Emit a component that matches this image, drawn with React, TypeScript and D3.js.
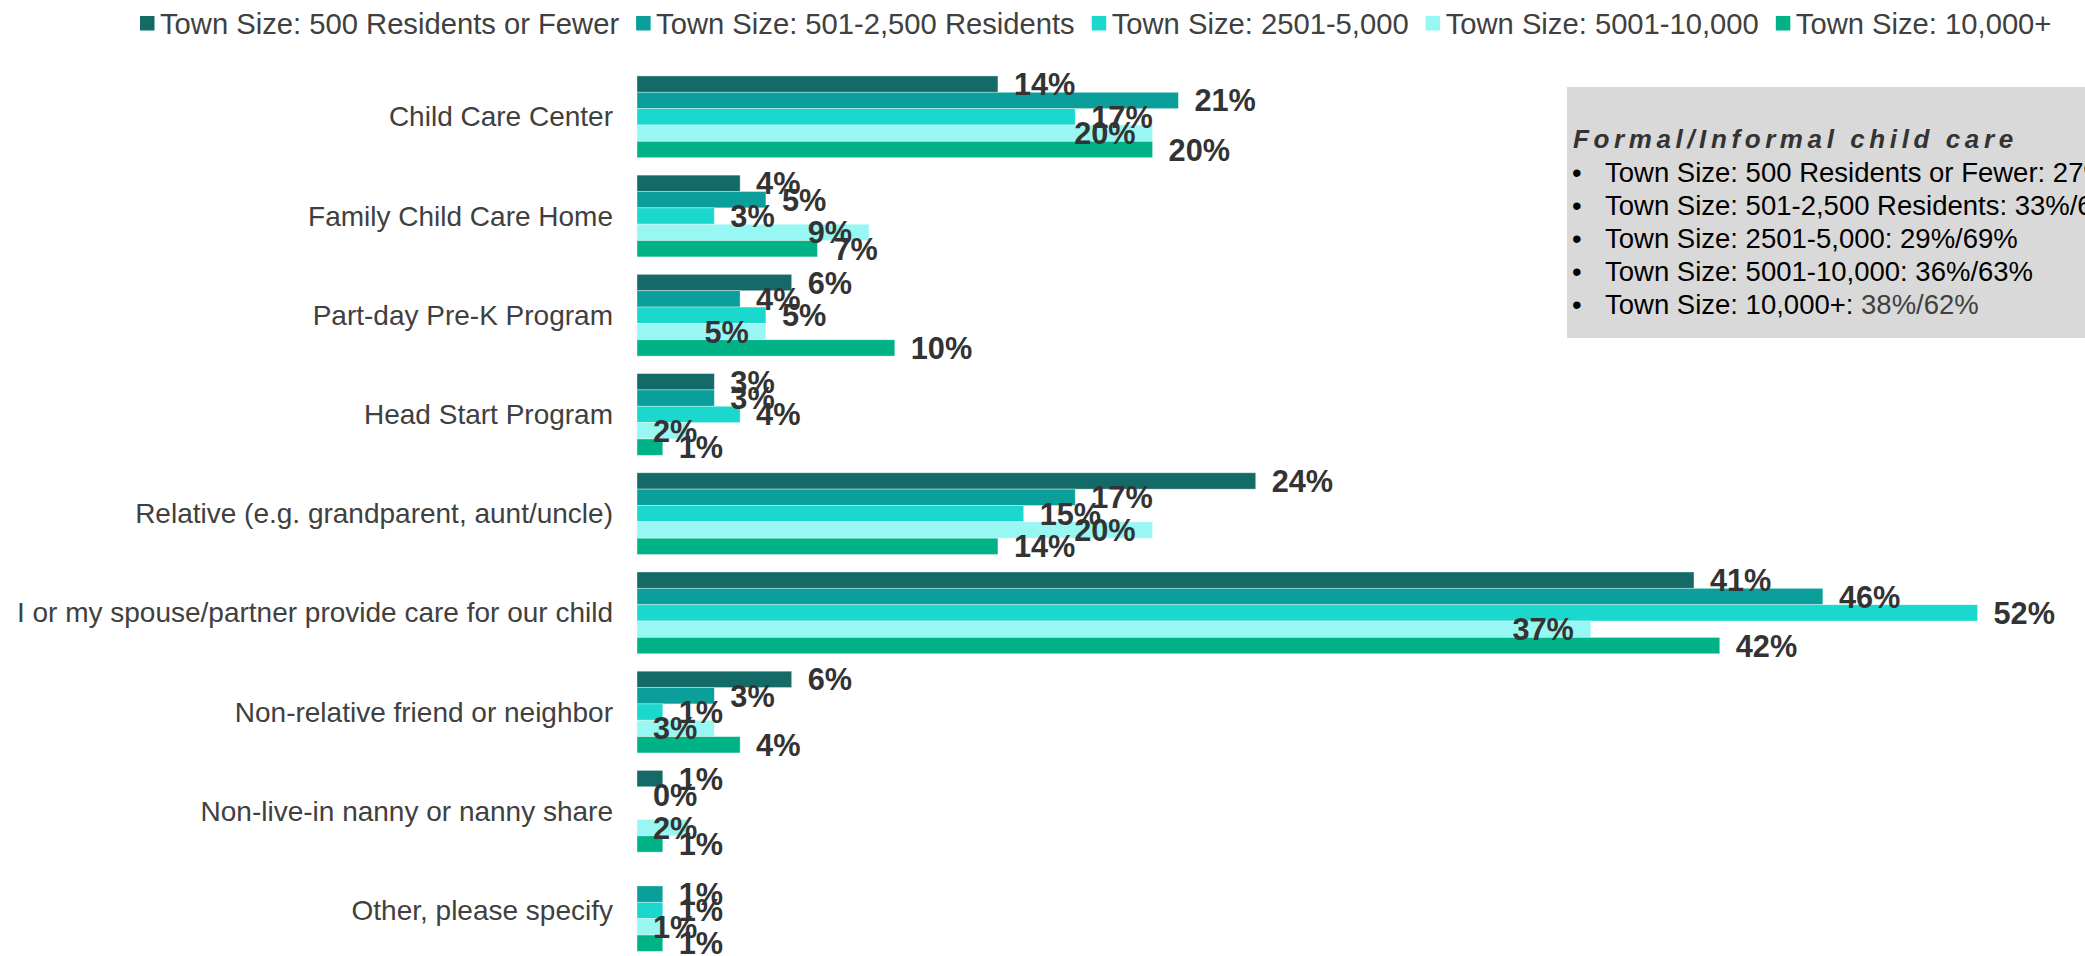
import React, { useEffect, useRef } from "react";
import * as d3 from "d3";

const categories = [
  "Child Care Center",
  "Family Child Care Home",
  "Part-day Pre-K Program",
  "Head Start Program",
  "Relative (e.g. grandparent, aunt/uncle)",
  "I or my spouse/partner provide care for our child",
  "Non-relative friend or neighbor",
  "Non-live-in nanny or nanny share",
  "Other, please specify",
];

const seriesNames = [
  "Town Size: 500 Residents or Fewer",
  "Town Size: 501-2,500 Residents",
  "Town Size: 2501-5,000",
  "Town Size: 5001-10,000",
  "Town Size: 10,000+",
];

const under500 = [14, 4, 6, 3, 24, 41, 6, 1, null];
const from501 = [21, 5, 4, 3, 17, 46, 3, 0, 1];
const from2501 = [17, 3, 5, 4, 15, 52, 1, null, 1];
const from5001 = [20, 9, 5, 2, 20, 37, 3, 2, 1];
const over10000 = [20, 7, 10, 1, 14, 42, 4, 1, 1];

const seriesValues = [under500, from501, from2501, from5001, over10000];
// label placement per series: outside end, or inside end (Excel style)
const labelPlacement = ["outside", "outside", "outside", "inside", "outside"];

const colors = ["#136a66", "#0a9f9a", "#1bd8cf", "#98f7f2", "#00b386"];

const noteTitle = "Formal/Informal child care";
const noteLabels = [
  "Town Size: 500 Residents or Fewer: ",
  "Town Size: 501-2,500 Residents: ",
  "Town Size: 2501-5,000: ",
  "Town Size: 5001-10,000: ",
  "Town Size: 10,000+: ",
];
const noteValues = ["27%/72%", "33%/66%", "29%/69%", "36%/63%", "38%/62%"];

const W = 2085;
const H = 956;
const FONT = "'Liberation Sans', Arial, Helvetica, sans-serif";

export default function App() {
  const ref = useRef<SVGSVGElement | null>(null);

  useEffect(() => {
    const svg = d3.select(ref.current);
    svg.selectAll("*").remove();

    const x0 = 637;
    const pxPerPct = 25.78;
    const x = d3.scaleLinear().domain([0, 60]).range([x0, x0 + 60 * pxPerPct]);
    const y = d3
      .scaleBand<string>()
      .domain(categories)
      .range([67.2, 960.1])
      .paddingInner(0.176)
      .paddingOuter(0.088);
    const ySub = d3
      .scaleBand<string>()
      .domain(seriesNames)
      .range([0, y.bandwidth()]);

    // Legend
    const legend = svg.append("g").attr("font-family", FONT).attr("font-size", 29.2).attr("fill", "#404040");
    let lx = 140;
    seriesNames.forEach((name, i) => {
      legend
        .append("rect")
        .attr("x", lx)
        .attr("y", 16)
        .attr("width", 14.5)
        .attr("height", 14.5)
        .attr("fill", colors[i]);
      const t = legend
        .append("text")
        .attr("x", lx + 20)
        .attr("y", 33.5)
        .text(name);
      const w = (t.node() as SVGTextElement).getComputedTextLength();
      lx = lx + 20 + w + 17;
    });

    // Category labels
    const cats = svg.append("g").attr("font-family", FONT).attr("font-size", 28).attr("fill", "#404040");
    categories.forEach((c) => {
      cats
        .append("text")
        .attr("x", 613)
        .attr("y", (y(c) as number) + y.bandwidth() / 2 + 9.6)
        .attr("text-anchor", "end")
        .text(c);
    });

    // Bars
    const bars = svg.append("g");
    seriesValues.forEach((vals, si) => {
      vals.forEach((v, ci) => {
        if (v === null) return;
        const yy = (y(categories[ci]) as number) + (ySub(seriesNames[si]) as number);
        bars
          .append("rect")
          .attr("x", x(0))
          .attr("y", yy)
          .attr("width", Math.max(0, x(v) - x(0)))
          .attr("height", ySub.bandwidth())
          .attr("fill", colors[si])
          .attr("stroke", "#ffffff")
          .attr("stroke-opacity", 0.45)
          .attr("stroke-width", 0.8);
      });
    });

    // Data labels
    const labels = svg
      .append("g")
      .attr("font-family", FONT)
      .attr("font-size", 30.7)
      .attr("font-weight", "bold")
      .attr("fill", "#333333");
    seriesValues.forEach((vals, si) => {
      vals.forEach((v, ci) => {
        if (v === null) return;
        const yy = (y(categories[ci]) as number) + (ySub(seriesNames[si]) as number) + ySub.bandwidth() / 2;
        const t = labels
          .append("text")
          .attr("y", yy + 11)
          .text(`${v}%`);
        const w = (t.node() as SVGTextElement).getComputedTextLength();
        let lxp = x(v) + 16;
        if (labelPlacement[si] === "inside") {
          lxp = Math.max(x(v) - 17 - w, x(0) + 16);
        }
        t.attr("x", lxp);
      });
    });

    // Annotation box
    const note = svg.append("g").attr("font-family", FONT);
    note
      .append("rect")
      .attr("x", 1567)
      .attr("y", 87)
      .attr("width", 600)
      .attr("height", 251)
      .attr("fill", "#d9d9d9");
    note
      .append("text")
      .attr("x", 1573)
      .attr("y", 148)
      .attr("font-size", 26)
      .attr("font-weight", "bold")
      .attr("font-style", "italic")
      .attr("letter-spacing", 4.6)
      .attr("fill", "#333333")
      .text(noteTitle);
    noteLabels.forEach((lab, i) => {
      const by = 182 + i * 33;
      note
        .append("text")
        .attr("x", 1572)
        .attr("y", by)
        .attr("font-size", 27.5)
        .attr("fill", "#000000")
        .text("•");
      const t = note
        .append("text")
        .attr("x", 1605)
        .attr("y", by)
        .attr("font-size", 27.5)
        .attr("fill", "#000000");
      t.append("tspan").text(lab);
      t.append("tspan")
        .attr("fill", i === noteLabels.length - 1 ? "#404040" : "#000000")
        .text(noteValues[i]);
    });
  }, []);

  return (
    <div style={{ position: "absolute", left: 0, top: 0, width: W, height: H, overflow: "hidden", background: "#ffffff" }}>
      <svg ref={ref} width={W} height={H} style={{ display: "block", overflow: "hidden" }} />
    </div>
  );
}
